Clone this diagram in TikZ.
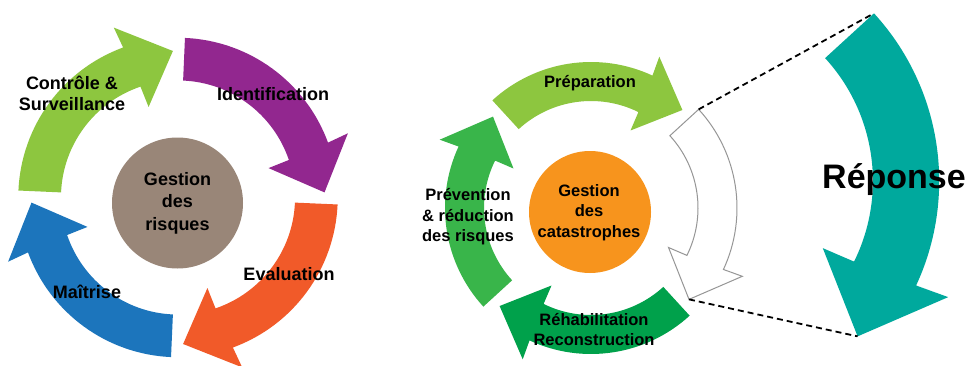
\documentclass[tikz,border=0pt]{standalone}
\usepackage{fontspec}
\setmainfont{Liberation Sans}
\definecolor{cgreenL}{RGB}{141,198,63}
\definecolor{cpurple}{RGB}{146,39,143}
\definecolor{corangeA}{RGB}{241,90,41}
\definecolor{cblue}{RGB}{28,117,188}
\definecolor{cbrown}{RGB}{153,134,120}
\definecolor{cgreenM}{RGB}{57,181,74}
\definecolor{cgreenD}{RGB}{0,161,75}
\definecolor{corangeC}{RGB}{247,148,29}
\definecolor{cteal}{RGB}{0,169,157}
\definecolor{cgrayline}{RGB}{150,150,150}
\newcommand\ringarrow[2]{%
  \path[#1] ({#2}:146) arc[start angle={#2}, end angle={#2-67.4}, radius=146]
    -- ({#2-66.8}:166) -- ({#2-85.5}:134) -- ({#2-69.5}:87) -- ({#2-68.8}:107)
    arc[start angle={#2-68.8}, end angle={#2}, radius=107] -- cycle;}
\tikzset{
  lbl/.style={inner sep=0pt, align=center, font=\fontsize{18}{21.5}\selectfont\bfseries},
  lblc/.style={inner sep=0pt, align=center, font=\fontsize{18}{22.5}\selectfont\bfseries},
  rlbl/.style={inner sep=0pt, align=center, font=\fontsize{16.5}{20.5}\selectfont\bfseries},
  hub/.style={circle, inner sep=0pt},
  dashlink/.style={draw=black, line width=1.8pt, dash pattern=on 6pt off 4pt}
}
\begin{document}
\begin{tikzpicture}[x=1pt,y=1pt]
\fill[white] (0,0) rectangle (968,365);
\useasboundingbox (0,0) rectangle (968,365);
% ---------- left cycle ----------
\begin{scope}[shift={(178,167.5)}, scale=1.094]
  \ringarrow{fill=cgreenL}{177.5}
  \ringarrow{fill=cpurple}{87.5}
  \ringarrow{fill=corangeA}{-2.5}
  \ringarrow{fill=cblue}{-92.5}
\end{scope}
\node[hub, fill=cbrown, minimum size=131pt] (gr) at (177.5,162) {};
\node[lblc] (grt) at (177.5,162) {Gestion\\des\\risques};
\node[lbl] (ctl) at (72,271.5) {Contrôle \&\\Surveillance};
\node[lbl] (idf) at (273,271) {Identification};
\node[lbl] (eva) at (289,91) {Evaluation};
\node[lbl] (mai) at (87,73) {Maîtrise};
% ---------- right cycle ----------
\begin{scope}[shift={(591,157)}]
  \ringarrow{fill=cgreenL}{132.5}
  \ringarrow{fill=cgreenD}{-47.5}
  \ringarrow{fill=cgreenM}{-137.5}
  \ringarrow{fill=white, draw=cgrayline, line width=1pt}{42.5}
  \coordinate (wtail) at (42.5:146);
  \coordinate (wtip) at (-43:134);
\end{scope}
\node[hub, fill=corangeC, minimum size=122pt] (gc) at (590,153) {};
\node[rlbl] (gct) at (589,152.5) {Gestion\\des\\catastrophes};
\node[rlbl] (prep) at (590,282) {Préparation};
\node[rlbl] (prev) at (468,148) {Prévention\\\& réduction\\des risques};
\node[rlbl] (reh) at (594,35.5) {Réhabilitation\\Reconstruction};
% ---------- zoomed response arrow ----------
\begin{scope}[shift={(691,184)}, scale=1.7]
  \ringarrow{fill=cteal}{42.5}
  \coordinate (btail) at (42.5:146);
  \coordinate (btip) at (-43:134);
\end{scope}
\node[inner sep=0pt, font=\fontsize{34}{40}\selectfont\bfseries] (rep) at (894,185) {Réponse};
\draw[dashlink] (wtail) -- (btail);
\draw[dashlink] (wtip) -- (btip);
\end{tikzpicture}
\end{document}
